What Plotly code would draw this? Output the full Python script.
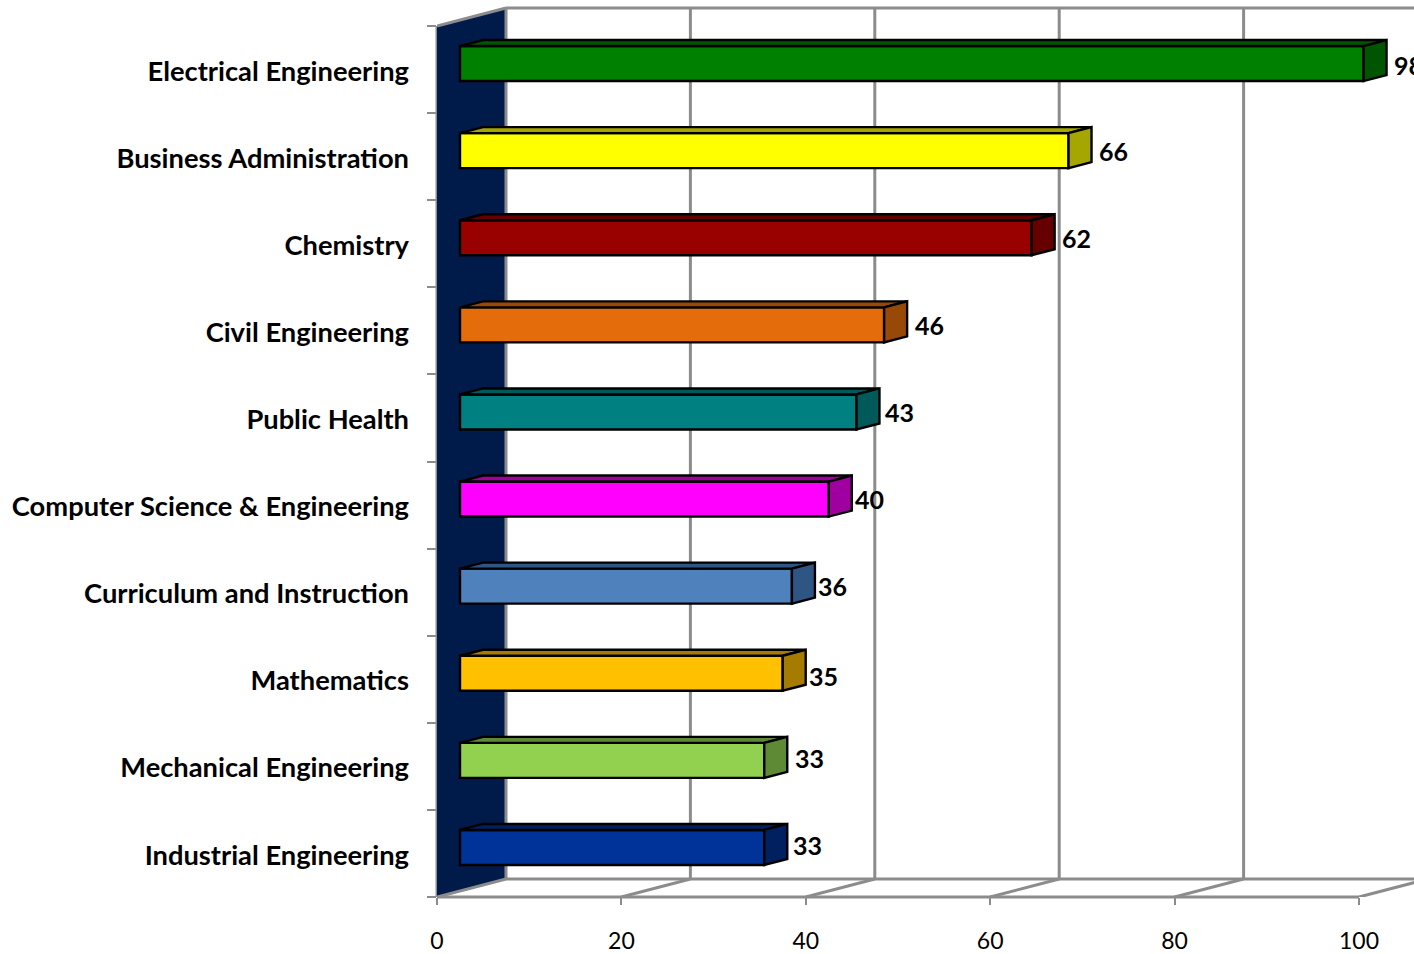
import plotly.graph_objects as go

categories = ["Electrical Engineering", "Business Administration", "Chemistry",
              "Civil Engineering", "Public Health", "Computer Science & Engineering",
              "Curriculum and Instruction", "Mathematics", "Mechanical Engineering",
              "Industrial Engineering"]
values = [98, 66, 62, 46, 43, 40, 36, 35, 33, 33]
x_ticks = [0, 20, 40, 60, 80, 100]

front_colors = ["#008000", "#ffff00", "#990000", "#e46c0a", "#008080",
                "#ff00ff", "#4f81bd", "#ffc000", "#92d050", "#003399"]
side_colors = ["#005500", "#a6a600", "#660000", "#984807", "#005a5a",
               "#a000a0", "#2f5585", "#a67c00", "#5f8a35", "#002060"]
# small pixel nudges of the value labels relative to the bar end
label_dx = [-2, -2, -2, -1, -3, -6, -6, -6, -1, -3]
label_dy = [-1, 0, 0, 0, 0, 0, 0, -3, 2, 2]

W, H = 1414, 954
L, B = 437, 57
PX_PER_X = 9.22
BAND = 87.1
GRAY = "#8c8c8c"
FONT = "Lato"

x_max = (W - L) / PX_PER_X
y_min = -0.5
y_max = y_min + (H - B) / BAND

def dx(px):
    return px / PX_PER_X

def dy(px):
    return px / BAND

wall_dx, wall_dy = dx(69), dy(18)
bar_dx, bar_dy = dx(23), dy(6)
bar_h = dy(35)
n = len(categories)
ypos = [n - 1 - i for i in range(n)]
y_top_front = y_min + n

fig = go.Figure()

# front faces
fig.add_trace(go.Bar(
    orientation="h", x=values, y=[y + bar_dy for y in ypos],
    base=[bar_dx] * n, width=[bar_h] * n,
    marker=dict(color=front_colors, line=dict(color="black", width=2.4)),
    hoverinfo="skip", showlegend=False,
))

# top and side faces
for v, y, col, side in zip(values, ypos, front_colors, side_colors):
    x0, x1 = bar_dx, bar_dx + v
    yb = y + bar_dy - bar_h / 2
    yt = y + bar_dy + bar_h / 2
    fig.add_trace(go.Scatter(
        x=[x0, x0 + bar_dx, x1 + bar_dx, x1, x0],
        y=[yt, yt + bar_dy, yt + bar_dy, yt, yt],
        mode="lines", fill="toself", fillcolor=side,
        line=dict(color="black", width=2.4), hoverinfo="skip", showlegend=False,
    ))
    fig.add_trace(go.Scatter(
        x=[x1, x1 + bar_dx, x1 + bar_dx, x1, x1],
        y=[yt, yt + bar_dy, yb + bar_dy, yb, yt],
        mode="lines", fill="toself", fillcolor=side,
        line=dict(color="black", width=2.4), hoverinfo="skip", showlegend=False,
    ))

shapes = []
def seg(x0, y0, x1, y1, xref="x", yref="y"):
    shapes.append(dict(type="line", xref=xref, yref=yref, x0=x0, y0=y0, x1=x1, y1=y1,
                       layer="below", line=dict(color=GRAY, width=3)))

y_back_floor = y_min + wall_dy
y_back_top = y_top_front + wall_dy
# side wall
shapes.append(dict(type="path", xref="x", yref="y", layer="below",
                   path=f"M0,{y_min} L{wall_dx},{y_back_floor} L{wall_dx},{y_back_top} "
                        f"L0,{y_top_front} Z",
                   fillcolor="#001a4a", line=dict(width=0)))
# floor and back wall frame (axis-edge lines use paper refs so they are not clipped)
seg(0, 0, x_ticks[-1], 0, xref="x", yref="paper")
seg(wall_dx, y_back_floor, x_max, y_back_floor)
seg(wall_dx, y_back_top, x_max, y_back_top)
seg(0, y_min, 0, y_top_front, xref="paper", yref="y")
seg(0, y_top_front, wall_dx, y_back_top)
for t in x_ticks:
    seg(t, y_min, t + wall_dx, y_back_floor)
    seg(t + wall_dx, y_back_floor, t + wall_dx, y_back_top)

# value labels
annotations = []
for v, y, ndx, ndy in zip(values, ypos, label_dx, label_dy):
    annotations.append(dict(
        x=bar_dx * 2 + v, y=y + bar_dy, xref="x", yref="y", text=str(v),
        showarrow=False, xanchor="left", yanchor="middle", xshift=7 + ndx, yshift=ndy,
        font=dict(family=FONT, size=25, color="black", weight="bold"),
    ))

fig.update_layout(
    width=W, height=H, margin=dict(l=L, r=0, t=0, b=B, pad=0),
    paper_bgcolor="white", plot_bgcolor="white", shapes=shapes,
    annotations=annotations, showlegend=False, barmode="overlay",
    xaxis=dict(range=[0, x_max], tickvals=x_ticks, ticktext=[str(t) for t in x_ticks],
               automargin=False,
               ticks="outside", ticklen=7, tickwidth=2, tickcolor=GRAY,
               showgrid=False, zeroline=False, showline=False, ticklabelstandoff=16,
               tickfont=dict(family=FONT, size=23, color="black")),
    yaxis=dict(range=[y_min, y_max], tickvals=[y - dy(1.5) for y in ypos], ticktext=categories,
               automargin=False,
               ticks="", showgrid=False, zeroline=False, showline=False,
               ticklabelstandoff=27,
               tickfont=dict(family=FONT, size=27.3, color="black", weight="bold"),
               minor=dict(tickvals=[y_min + i for i in range(n + 1)], ticks="outside",
                          ticklen=9, tickwidth=2, tickcolor=GRAY, showgrid=False)),
)
fig.write_html("out.html", config={"displayModeBar": False},
               post_script="document.body.style.margin='0';")
